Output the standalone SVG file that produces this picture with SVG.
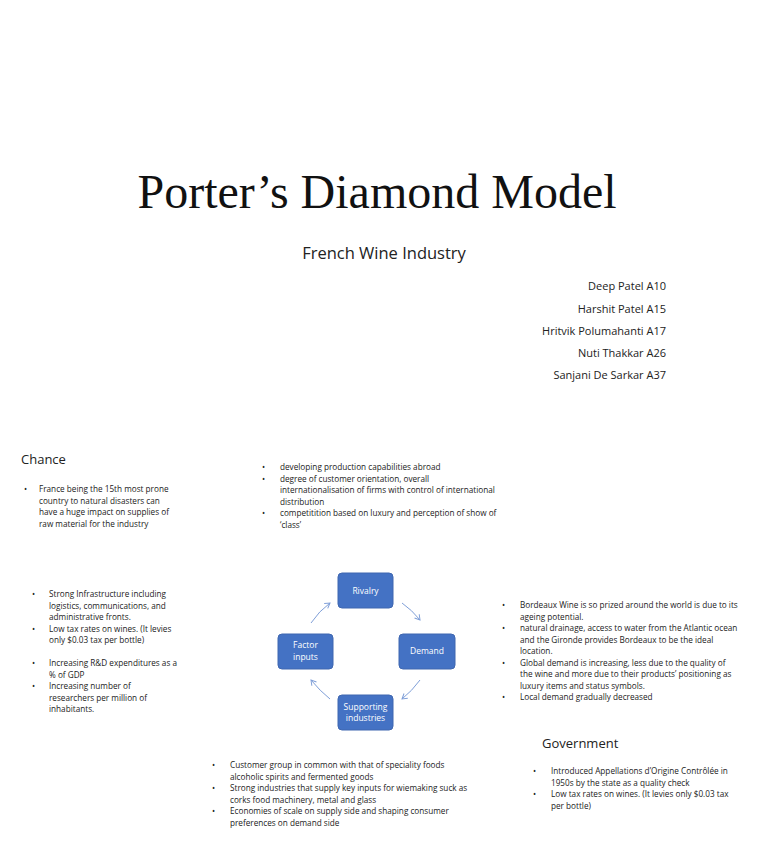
<svg xmlns="http://www.w3.org/2000/svg" width="768" height="866" viewBox="0 0 768 866">
<style>
.t{font-family:"Open Sans","Liberation Sans",sans-serif;font-size:8.2px;fill:#222}
.h{font-family:"Open Sans","Liberation Sans",sans-serif;font-size:13px;fill:#222}
.a{font-family:"Open Sans","Liberation Sans",sans-serif;font-size:11px;fill:#222;text-anchor:end}
.box{fill:#4472C4;stroke:#3f67b0;stroke-width:1}
.bl{font-family:"Open Sans","Liberation Sans",sans-serif;font-size:8.5px;fill:#fff;text-anchor:middle}
.c{fill:none;stroke:#7f9fd8;stroke-width:1}
</style>
<defs><marker id="m" markerWidth="8" markerHeight="8" refX="6" refY="4" orient="auto" markerUnits="userSpaceOnUse"><path d="M1,1 L6,4 L1,7" fill="none" stroke="#7f9fd8" stroke-width="1"/></marker></defs>
<rect width="768" height="866" fill="#fff"/>
<text x="377" y="208" font-family="Liberation Serif,serif" font-size="48" text-anchor="middle" fill="#111">Porter’s Diamond Model</text>
<text x="384" y="259" font-family="Open Sans,Liberation Sans,sans-serif" font-size="16.5" text-anchor="middle" fill="#222">French Wine Industry</text>
<text class="a" x="666" y="290">Deep Patel A10</text>
<text class="a" x="666" y="313">Harshit Patel A15</text>
<text class="a" x="666" y="335">Hritvik Polumahanti A17</text>
<text class="a" x="666" y="357">Nuti Thakkar A26</text>
<text class="a" x="666" y="379">Sanjani De Sarkar A37</text>

<text class="h" x="21" y="464">Chance</text>
<g class="t">
<text x="24" y="492">•</text><text x="39" y="492">France being the 15th most prone</text><text x="39" y="503.5">country to natural disasters can</text><text x="39" y="515">have a huge impact on supplies of</text><text x="39" y="526.5">raw material for the industry</text>

<text x="262" y="470">•</text><text x="280" y="470">developing production capabilities abroad</text>
<text x="262" y="481.5">•</text><text x="280" y="481.5">degree of customer orientation, overall</text><text x="280" y="493">internationalisation of firms with control of international</text><text x="280" y="504.5">distribution</text>
<text x="262" y="516">•</text><text x="280" y="516">competitition based on luxury and perception of show of</text><text x="280" y="527.5">‘class’</text>

<text x="32" y="597">•</text><text x="49" y="597">Strong Infrastructure including</text><text x="49" y="608.5">logistics, communications, and</text><text x="49" y="620">administrative fronts.</text>
<text x="32" y="631.5">•</text><text x="49" y="631.5">Low tax rates on wines. (It levies</text><text x="49" y="643">only $0.03 tax per bottle)</text>
<text x="32" y="666">•</text><text x="49" y="666">Increasing R&amp;D expenditures as a</text><text x="49" y="677.5">% of GDP</text>
<text x="32" y="689">•</text><text x="49" y="689">Increasing number of</text><text x="49" y="700.5">researchers per million of</text><text x="49" y="712">inhabitants.</text>

<text x="502" y="608">•</text><text x="520" y="608">Bordeaux Wine is so prized around the world is due to its</text><text x="520" y="619.5">ageing potential.</text>
<text x="502" y="631">•</text><text x="520" y="631">natural drainage, access to water from the Atlantic ocean</text><text x="520" y="642.5">and the Gironde provides Bordeaux to be the ideal</text><text x="520" y="654">location.</text>
<text x="502" y="665.5">•</text><text x="520" y="665.5">Global demand is increasing, less due to the quality of</text><text x="520" y="677">the wine and more due to their products’ positioning as</text><text x="520" y="688.5">luxury items and status symbols.</text>
<text x="502" y="700">•</text><text x="520" y="700">Local demand gradually decreased</text>

<text x="533" y="774">•</text><text x="551" y="774">Introduced Appellations d’Origine Contrôlée in</text><text x="551" y="785.5">1950s by the state as a quality check</text>
<text x="533" y="797">•</text><text x="551" y="797">Low tax rates on wines. (It levies only $0.03 tax</text><text x="551" y="808.5">per bottle)</text>

<text x="212" y="768">•</text><text x="230" y="768">Customer group in common with that of speciality foods</text><text x="230" y="779.5">alcoholic spirits and fermented goods</text>
<text x="212" y="791">•</text><text x="230" y="791">Strong industries that supply key inputs for wiemaking suck as</text><text x="230" y="802.5">corks food machinery, metal and glass</text>
<text x="212" y="814">•</text><text x="230" y="814">Economies of scale on supply side and shaping consumer</text><text x="230" y="825.5">preferences on demand side</text>
</g>
<text class="h" x="542" y="748">Government</text>

<g id="connectors">
<path class="c" d="M402,603 Q412,610 420,620" marker-end="url(#m)"/>
<path class="c" d="M420,680 Q412,691 402,699" marker-end="url(#m)"/>
<path class="c" d="M330,699 Q320,691 311,680" marker-end="url(#m)"/>
<path class="c" d="M311,623 Q319,611 330,603" marker-end="url(#m)"/>
</g>
<g id="rivalry"><rect class="box" x="338" y="573" width="55" height="35" rx="4"/><text class="bl" x="365.5" y="594">Rivalry</text></g>
<g id="demand"><rect class="box" x="399" y="634" width="56" height="35" rx="4"/><text class="bl" x="427" y="654">Demand</text></g>
<g id="supporting"><rect class="box" x="338" y="695" width="55" height="35" rx="4"/><text class="bl" x="365.5" y="710">Supporting</text><text class="bl" x="365.5" y="721">industries</text></g>
<g id="factor"><rect class="box" x="278" y="634" width="55" height="35" rx="4"/><text class="bl" x="305.5" y="648">Factor</text><text class="bl" x="305.5" y="660">inputs</text></g>
</svg>
